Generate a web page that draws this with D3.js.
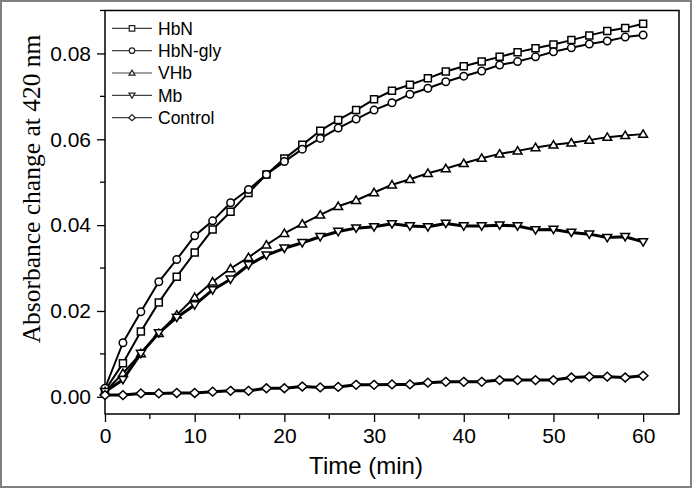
<!DOCTYPE html>
<html><head><meta charset="utf-8">
<script src="https://cdn.jsdelivr.net/npm/d3@7"></script>
<style>body{margin:0;background:#fff;}svg{display:block;}</style>
</head><body>
<svg id="chart" width="693" height="489"></svg>
<script>
const time = [0,2,4,6,8,10,12,14,16,18,20,22,24,26,28,30,32,34,36,38,40,42,44,46,48,50,52,54,56,58,60];
const hbn = [0.0015,0.0078,0.0152,0.0220,0.0280,0.0336,0.0390,0.0431,0.0475,0.0518,0.0555,0.0587,0.0620,0.0645,0.0668,0.0693,0.0713,0.0727,0.0742,0.0758,0.0770,0.0781,0.0792,0.0803,0.0812,0.0821,0.0831,0.0842,0.0852,0.0859,0.0869];
const hbnGly = [0.0020,0.0126,0.0198,0.0268,0.0320,0.0375,0.0410,0.0452,0.0483,0.0518,0.0548,0.0577,0.0602,0.0626,0.0647,0.0668,0.0685,0.0705,0.0719,0.0734,0.0747,0.0759,0.0773,0.0781,0.0792,0.0804,0.0813,0.0822,0.0829,0.0838,0.0843];
const vhb = [0.0012,0.0055,0.0101,0.0148,0.0191,0.0232,0.0268,0.0299,0.0325,0.0354,0.0381,0.0403,0.0424,0.0444,0.0458,0.0476,0.0494,0.0507,0.0521,0.0532,0.0544,0.0556,0.0566,0.0573,0.0581,0.0587,0.0592,0.0598,0.0605,0.0609,0.0612];
const mb = [0.0012,0.0040,0.0101,0.0149,0.0185,0.0214,0.0249,0.0274,0.0307,0.0330,0.0346,0.0359,0.0373,0.0385,0.0393,0.0396,0.0403,0.0398,0.0396,0.0404,0.0398,0.0398,0.0400,0.0398,0.0389,0.0390,0.0383,0.0379,0.0371,0.0373,0.0361];
const control = [0.0004,0.0004,0.0008,0.0008,0.0009,0.0009,0.0012,0.0014,0.0014,0.0020,0.0020,0.0024,0.0022,0.0023,0.0028,0.0028,0.0029,0.0029,0.0033,0.0035,0.0035,0.0035,0.0039,0.0039,0.0039,0.0039,0.0045,0.0047,0.0047,0.0045,0.0049];
const seriesNames = ["HbN","HbN-gly","VHb","Mb","Control"];
const seriesValues = [hbn, hbnGly, vhb, mb, control];
const markerTypes = ["square","circle","triangleUp","triangleDown","diamond"];
const xTicks = [0,10,20,30,40,50,60];
const yTicks = [0.00,0.02,0.04,0.06,0.08];
const xTitle = "Time (min)";
const yTitle = "Absorbance change at 420 nm";

const svg = d3.select("#chart");
const L = 105, R = 679, T = 10.5, B = 414;
const x = d3.scaleLinear().domain([0,64]).range([L,R]);
const y = d3.scaleLinear().domain([-0.004,0.09]).range([B,T]);

// outer frame
svg.append("rect").attr("x",1).attr("y",1).attr("width",690).attr("height",486)
  .attr("fill","none").attr("stroke","#808080").attr("stroke-width",2);

function markerPath(type, s){
  const h = s/2;
  switch(type){
    case "square": return `M${-h},${-h}H${h}V${h}H${-h}Z`;
    case "circle": return `M${h},0A${h},${h} 0 1,1 ${-h},0A${h},${h} 0 1,1 ${h},0Z`;
    case "triangleUp": return `M0,${-h*1.05}L${h*1.1},${h*0.8}L${-h*1.1},${h*0.8}Z`;
    case "triangleDown": return `M0,${h*1.05}L${h*1.1},${-h*0.8}L${-h*1.1},${-h*0.8}Z`;
    case "diamond": return `M0,${-h*1.1}L${h*1.2},0L0,${h*1.1}L${-h*1.2},0Z`;
  }
}

const font = "'Liberation Sans', Arial, Helvetica, sans-serif";

// axes
const xAxis = d3.axisBottom(x).tickValues(xTicks).tickSize(8).tickPadding(6).tickFormat(d3.format("d"));
const gx = svg.append("g").attr("transform",`translate(0,${B})`).call(xAxis);
gx.select(".domain").remove();
gx.selectAll(".tick line").attr("stroke","#000").attr("stroke-width",1.3);
gx.selectAll("text").attr("font-family",font).attr("font-size",21).attr("fill","#000");
// minor x ticks
svg.append("g").selectAll("line").data([5,15,25,35,45,55]).join("line")
  .attr("x1",d=>x(d)).attr("x2",d=>x(d)).attr("y1",B).attr("y2",B+5)
  .attr("stroke","#000").attr("stroke-width",1.3);

const yAxis = d3.axisLeft(y).tickValues(yTicks).tickSize(8).tickPadding(6).tickFormat(d3.format(".2f"));
const gy = svg.append("g").attr("transform",`translate(${L},0)`).call(yAxis);
gy.select(".domain").remove();
gy.selectAll(".tick line").attr("stroke","#000").attr("stroke-width",1.3);
gy.selectAll("text").attr("font-family",font).attr("font-size",21).attr("fill","#000");
svg.append("g").selectAll("line").data([0.01,0.03,0.05,0.07,0.09]).join("line")
  .attr("x1",L-5).attr("x2",L).attr("y1",d=>y(d)).attr("y2",d=>y(d))
  .attr("stroke","#000").attr("stroke-width",1.3);

// plot border
svg.append("rect").attr("x",L).attr("y",T).attr("width",R-L).attr("height",B-T)
  .attr("fill","none").attr("stroke","#000").attr("stroke-width",1.5);

// titles
svg.append("text").attr("x",366).attr("y",474).attr("text-anchor","middle")
  .attr("font-family",font).attr("font-size",24).attr("fill","#000").text(xTitle);
svg.append("text").attr("transform","translate(32,189) rotate(-90)").attr("dy","0.32em")
  .attr("text-anchor","middle").attr("font-family","'Liberation Serif','Times New Roman',serif")
  .attr("font-size",25.5).attr("fill","#000").text(yTitle);

// series
const line = d3.line().x((d,i)=>x(time[i])).y(d=>y(d));
const widths = [2,2,2,3,3];
const msize = [7,7.5,8,8,8];
seriesValues.forEach((vals,k)=>{
  const g = svg.append("g");
  g.append("path").datum(vals).attr("d",line).attr("fill","none")
    .attr("stroke","#000").attr("stroke-width",widths[k]).attr("stroke-linejoin","round");
  g.selectAll("path.m").data(vals).join("path").attr("class","m")
    .attr("transform",(d,i)=>`translate(${x(time[i])},${y(d)})`)
    .attr("d",markerPath(markerTypes[k],msize[k]))
    .attr("fill","#fff").attr("stroke","#000").attr("stroke-width",1.5);
});

// legend
const lg = svg.append("g");
seriesNames.forEach((name,k)=>{
  const yy = 28.3 + k*22.35;
  lg.append("line").attr("x1",112).attr("x2",152).attr("y1",yy).attr("y2",yy)
    .attr("stroke","#444").attr("stroke-width",1.2);
  lg.append("path").attr("transform",`translate(132,${yy})`).attr("d",markerPath(markerTypes[k],5.5))
    .attr("fill","#fff").attr("stroke","#222").attr("stroke-width",1.2);
  lg.append("text").attr("x",158).attr("y",yy).attr("dy","0.36em")
    .attr("font-family",font).attr("font-size",17.5).attr("fill","#000").text(name);
});
</script>
</body></html>
